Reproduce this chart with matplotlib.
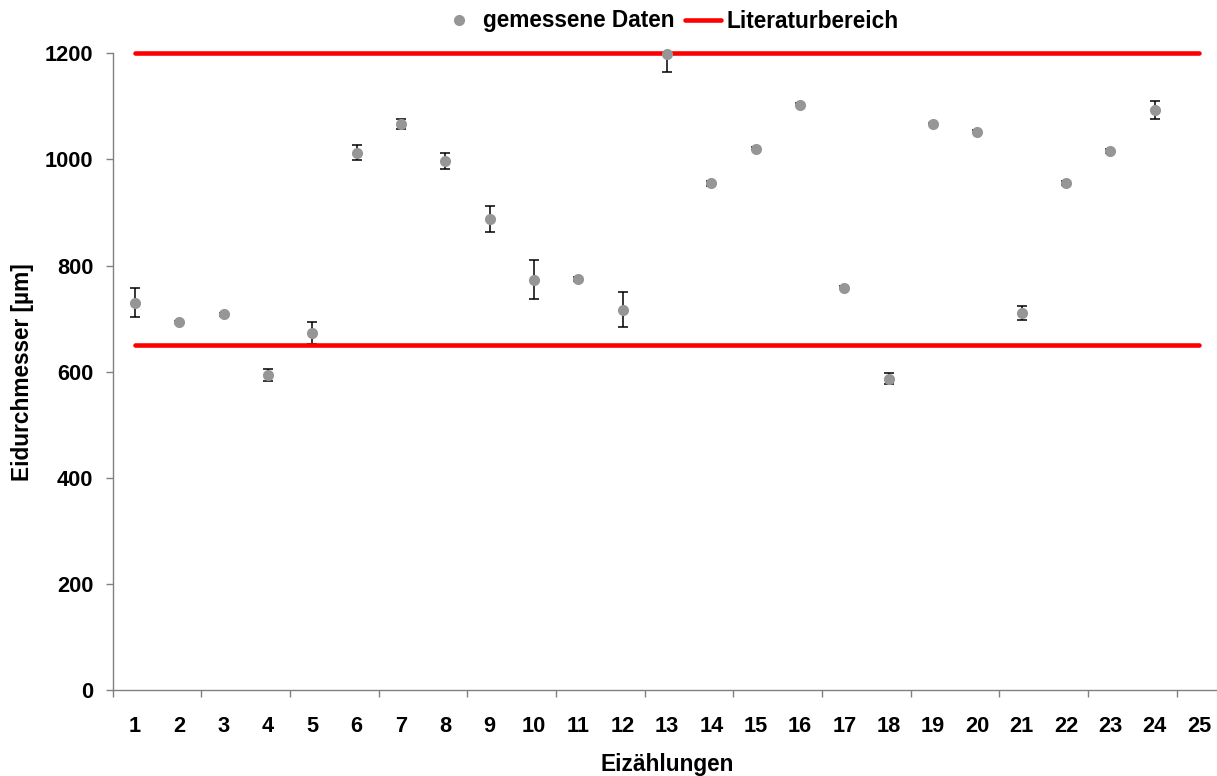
import matplotlib
matplotlib.use("Agg")
import matplotlib.pyplot as plt
from matplotlib.ticker import FixedLocator, NullFormatter, FixedFormatter

plt.rcParams['font.family'] = ['Liberation Sans', 'DejaVu Sans']
plt.rcParams['font.weight'] = 'bold'

# ---- data ----
categories = list(range(1, 26))
tick_labels = [str(c) for c in categories]
sample_x = list(range(1, 25))
values = [730, 693, 708, 594, 673, 1013, 1067, 997, 888, 773, 775, 717,
          1198, 955, 1020, 1103, 758, 587, 1067, 1052, 710, 955, 1016, 1094]
errors = [27, 2, 3, 11, 20, 15, 10, 16, 24, 37, 4, 33,
          34, 5, 3, 3, 3, 10, 1, 3, 13, 4, 3, 17]
lit_range = [650, 1200]
y_ticks = [0, 200, 400, 600, 800, 1000, 1200]

series_label = "gemessene Daten"
lit_label = "Literaturbereich"
x_title = "Eizählungen"
y_title = "Eidurchmesser [µm]"

W, H = 1217, 776
fig = plt.figure(figsize=(W / 100, H / 100), dpi=100)
left_px, right_px, top_px, bottom_px = 112.7, 1221.2, 53.3, 690.0
ax = fig.add_axes([left_px / W, (H - bottom_px) / H,
                   (right_px - left_px) / W, (bottom_px - top_px) / H])

gray = '#969696'
axis_gray = '#808080'

ax.errorbar(sample_x, values, yerr=errors, fmt='none', ecolor='black',
            elinewidth=1.1, capsize=3.4, capthick=1.1, zorder=1)
lit_lines = []
for v in lit_range:
    ln, = ax.plot([categories[0], categories[-1]], [v, v], color='#FF0000',
                  lw=3.3, solid_capstyle='round', zorder=2, clip_on=False)
    lit_lines.append(ln)
pts, = ax.plot(sample_x, values, linestyle='none', marker='o', markersize=7,
               markerfacecolor=gray, markeredgecolor=gray, zorder=3, clip_on=False)

ax.set_xlim(0.5, 25.5)
ax.set_ylim(0, 1200)

ax.spines['top'].set_visible(False)
ax.spines['right'].set_visible(False)
for s in ('left', 'bottom'):
    ax.spines[s].set_color(axis_gray)
    ax.spines[s].set_linewidth(1.0)

ax.set_yticks(y_ticks)
ax.set_yticklabels([str(t) for t in y_ticks])
ax.tick_params(axis='y', direction='out', length=5, width=1, color=axis_gray,
               labelsize=15.7, pad=9)

ax.xaxis.set_major_locator(FixedLocator([0.5 + 2 * k for k in range(13)]))
ax.xaxis.set_major_formatter(NullFormatter())
ax.xaxis.set_minor_locator(FixedLocator(categories))
ax.xaxis.set_minor_formatter(FixedFormatter(tick_labels))
ax.tick_params(axis='x', which='major', direction='out', length=5, width=1,
               color=axis_gray)
ax.tick_params(axis='x', which='minor', length=0, labelsize=15.7, pad=19)

for lab in ax.get_yticklabels() + ax.get_xticklabels(minor=True):
    lab.set_fontweight('bold')

ax.set_xlabel(x_title, fontsize=16.3, fontweight='bold', labelpad=11.5)
ax.set_ylabel(y_title, fontsize=16.3, fontweight='bold', labelpad=8)

fig.legend([pts, lit_lines[0]], [series_label, lit_label], loc='center',
           bbox_to_anchor=(670 / W, 1 - 21 / H), ncol=2, frameon=False,
           handlelength=1.6, handletextpad=0.25,
           columnspacing=0.45, borderpad=0, borderaxespad=0,
           prop={'weight': 'bold', 'size': 16.3})

fig.savefig('out.png', dpi=100)
